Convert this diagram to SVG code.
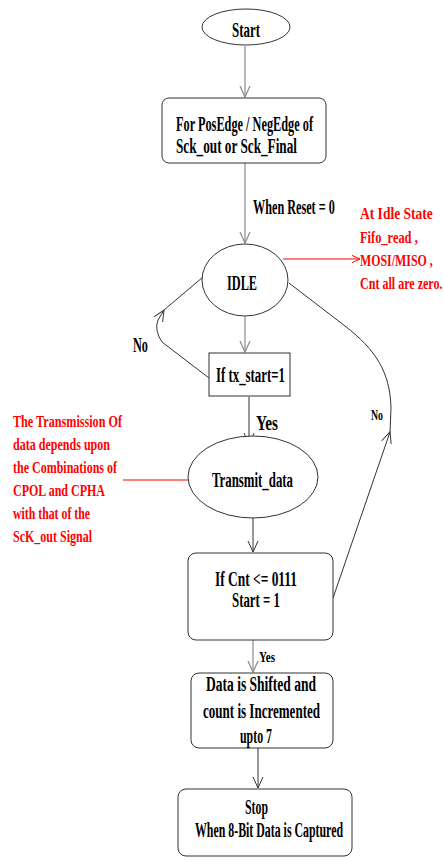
<svg xmlns="http://www.w3.org/2000/svg" width="444" height="861" viewBox="0 0 444 861">
<style>
.t{font-family:"Liberation Serif","Times New Roman",serif;font-weight:bold;font-size:20px;fill:#000}
.s{font-size:14px}
.r{font-family:"Liberation Serif","Times New Roman",serif;font-weight:bold;font-size:17px;fill:#ff0000}
.rr{font-size:16px}
.sh{fill:#fff;stroke:#333;stroke-width:1}
.lg{fill:none;stroke:#8a8a8a;stroke-width:1.2}
.ld{fill:none;stroke:#333;stroke-width:1}
.lr{fill:none;stroke:#ff0000;stroke-width:1}
</style>
<defs>
<marker id="ag" viewBox="0 0 12 12" refX="11" refY="6" markerWidth="12" markerHeight="12" markerUnits="userSpaceOnUse" orient="auto"><path d="M0,1 L11,6 L0,11" fill="none" stroke="#8a8a8a" stroke-width="1.2"/></marker>
<marker id="ad" viewBox="0 0 12 12" refX="11" refY="6" markerWidth="12" markerHeight="12" markerUnits="userSpaceOnUse" orient="auto"><path d="M0,1 L11,6 L0,11" fill="none" stroke="#333" stroke-width="1"/></marker>
<marker id="ar" viewBox="0 0 12 12" refX="11" refY="6" markerWidth="9" markerHeight="9" markerUnits="userSpaceOnUse" orient="auto"><path d="M0,1 L11,6 L0,11" fill="none" stroke="#ff0000" stroke-width="1.3"/></marker>
</defs>
<rect width="444" height="861" fill="#fff"/>
<g id="connectors">
<path class="lg" d="M245,46 L245,97" marker-end="url(#ag)"/>
<path class="lg" d="M245,163 L245,243" marker-end="url(#ag)"/>
<path class="lg" d="M245,316 L245,352" marker-end="url(#ag)"/>
<path class="ld" d="M249,397 L249,444" marker-end="url(#ad)"/>
<path class="ld" d="M253,518 L253,552" marker-end="url(#ad)"/>
<path class="lg" d="M253,640 L253,672" marker-end="url(#ag)"/>
<path class="ld" d="M258,748 L258,788" marker-end="url(#ad)"/>
<path class="ld" d="M209,378 L162,342 Q154,330 158,320 L164,310" marker-end="url(#ad)"/>
<path class="ld" d="M164,310 L203,277"/>
<path class="ld" d="M333,598 L390,432" marker-end="url(#ad)"/>
<path class="ld" d="M390,432 L391,408 C390,372 376,350 345,326 L289,283"/>
<path class="lr" d="M283,259 L360,259" marker-end="url(#ar)"/>
<path class="lr" d="M123,480 L188,480"/>
</g>
<g id="start"><ellipse class="sh" cx="246" cy="27" rx="44" ry="18"/><text class="t" x="232" y="37" textLength="28" lengthAdjust="spacingAndGlyphs">Start</text></g>
<g id="edge"><rect class="sh" x="162" y="98" width="164" height="65" rx="7"/><text class="t" x="176" y="131" textLength="137" lengthAdjust="spacingAndGlyphs">For PosEdge / NegEdge of</text><text class="t" x="176" y="153" textLength="121" lengthAdjust="spacingAndGlyphs">Sck_out or Sck_Final</text></g>
<g transform="translate(253,214) scale(0.62,1)"><text class="t" x="0" y="0" textLength="132" lengthAdjust="spacingAndGlyphs">When Reset = 0</text></g>
<g id="idle"><ellipse class="sh" cx="245" cy="280" rx="43" ry="36"/><text class="t" x="227" y="290" textLength="30" lengthAdjust="spacingAndGlyphs">IDLE</text></g>
<g id="note-idle" transform="translate(360,0) scale(0.75,1)"><text class="r rr" x="0" y="219" textLength="97" lengthAdjust="spacingAndGlyphs">At Idle State</text><text class="r rr" x="0" y="243" textLength="77" lengthAdjust="spacingAndGlyphs">Fifo_read ,</text><text class="r rr" x="0" y="266" textLength="97" lengthAdjust="spacingAndGlyphs">MOSI/MISO ,</text><text class="r rr" x="0" y="289" textLength="110" lengthAdjust="spacingAndGlyphs">Cnt all are zero.</text></g>
<g id="txstart"><rect class="sh" x="209" y="353" width="81" height="43"/><text class="t" x="216" y="382" textLength="69" lengthAdjust="spacingAndGlyphs">If tx_start=1</text></g>
<text class="t" x="133" y="352" textLength="15" lengthAdjust="spacingAndGlyphs">No</text>
<text class="t" x="256" y="430" textLength="22" lengthAdjust="spacingAndGlyphs">Yes</text>
<g id="transmit"><ellipse class="sh" cx="253" cy="477" rx="65" ry="41"/><text class="t" x="212" y="487" textLength="81" lengthAdjust="spacingAndGlyphs">Transmit_data</text></g>
<g id="note-tx"><text class="r" x="13" y="427" textLength="109" lengthAdjust="spacingAndGlyphs">The Transmission Of</text><text class="r" x="13" y="450" textLength="97" lengthAdjust="spacingAndGlyphs">data depends upon</text><text class="r" x="13" y="473" textLength="104" lengthAdjust="spacingAndGlyphs">the Combinations of</text><text class="r" x="13" y="496" textLength="92" lengthAdjust="spacingAndGlyphs">CPOL and CPHA</text><text class="r" x="13" y="519" textLength="77" lengthAdjust="spacingAndGlyphs">with that of the</text><text class="r" x="13" y="542" textLength="79" lengthAdjust="spacingAndGlyphs">ScK_out Signal</text></g>
<g id="cnt"><rect class="sh" x="188" y="553" width="145" height="87" rx="8"/><text class="t" x="215" y="586" textLength="82" lengthAdjust="spacingAndGlyphs">If Cnt &lt;= 0111</text><text class="t" x="232" y="607" textLength="48" lengthAdjust="spacingAndGlyphs">Start = 1</text></g>
<text class="t s" x="371" y="420" textLength="12" lengthAdjust="spacingAndGlyphs">No</text>
<text class="t s" x="259" y="662" textLength="16" lengthAdjust="spacingAndGlyphs">Yes</text>
<g id="shift"><rect class="sh" x="191" y="673" width="142" height="75" rx="8"/><text class="t" x="206" y="691" textLength="110" lengthAdjust="spacingAndGlyphs">Data is Shifted  and</text><text class="t" x="203" y="718" textLength="117" lengthAdjust="spacingAndGlyphs">count is Incremented</text><text class="t" x="240" y="743" textLength="32" lengthAdjust="spacingAndGlyphs">upto 7</text></g>
<g id="stop"><rect class="sh" x="178" y="789" width="174" height="67" rx="8"/><text class="t" x="245" y="814" textLength="23" lengthAdjust="spacingAndGlyphs">Stop</text><text class="t" x="195" y="837" textLength="148" lengthAdjust="spacingAndGlyphs">When 8-Bit Data is Captured</text></g>
</svg>
